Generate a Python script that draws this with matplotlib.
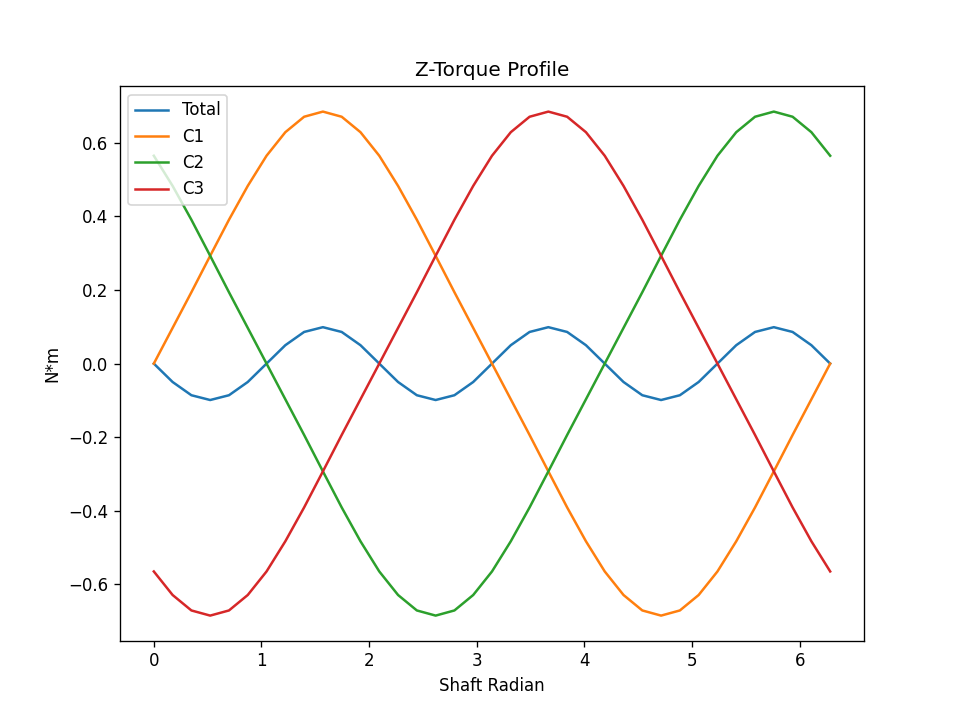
import numpy as np
import matplotlib
matplotlib.use("Agg")
import matplotlib.pyplot as plt

angles_deg = list(range(0, 361, 10))
total = [0, -.05, -.086, -.099, -.086, -.05, 0, .05, .086, .099, .086, .05,
         0, -.05, -.086, -.099, -.086, -.05, 0, .05, .086, .099, .086, .05,
         0, -.05, -.086, -.099, -.086, -.05, 0, .05, .086, .099, .086, .05, 0]
c1 = [0, .097, .194, .293, .391, .483, .565, .629, .671, .685, .671, .629, .565, .483, .391, .293, .194, .097, 0,
      -.097, -.194, -.293, -.391, -.483, -.565, -.629, -.671, -.685, -.671, -.629, -.565, -.483, -.391, -.293, -.194, -.097, 0]
c2 = [.565, .483, .391, .293, .194, .097, 0, -.097, -.194, -.293, -.391, -.483, -.565, -.629, -.671, -.685, -.671, -.629,
      -.565, -.483, -.391, -.293, -.194, -.097, 0, .097, .194, .293, .391, .483, .565, .629, .671, .685, .671, .629, .565]
c3 = [-.565, -.629, -.671, -.685, -.671, -.629, -.565, -.483, -.391, -.293, -.194, -.097, 0, .097, .194, .293, .391, .483,
      .565, .629, .671, .685, .671, .629, .565, .483, .391, .293, .194, .097, 0, -.097, -.194, -.293, -.391, -.483, -.565]

x = np.radians(angles_deg)
fig, ax = plt.subplots(figsize=(8, 6), dpi=120)
ax.plot(x, total, label="Total")
ax.plot(x, c1, label="C1")
ax.plot(x, c2, label="C2")
ax.plot(x, c3, label="C3")
ax.set_title("Z-Torque Profile")
ax.set_xlabel("Shaft Radian")
ax.set_ylabel("N*m")
ax.legend(loc="upper left")
fig.savefig("out.png")
